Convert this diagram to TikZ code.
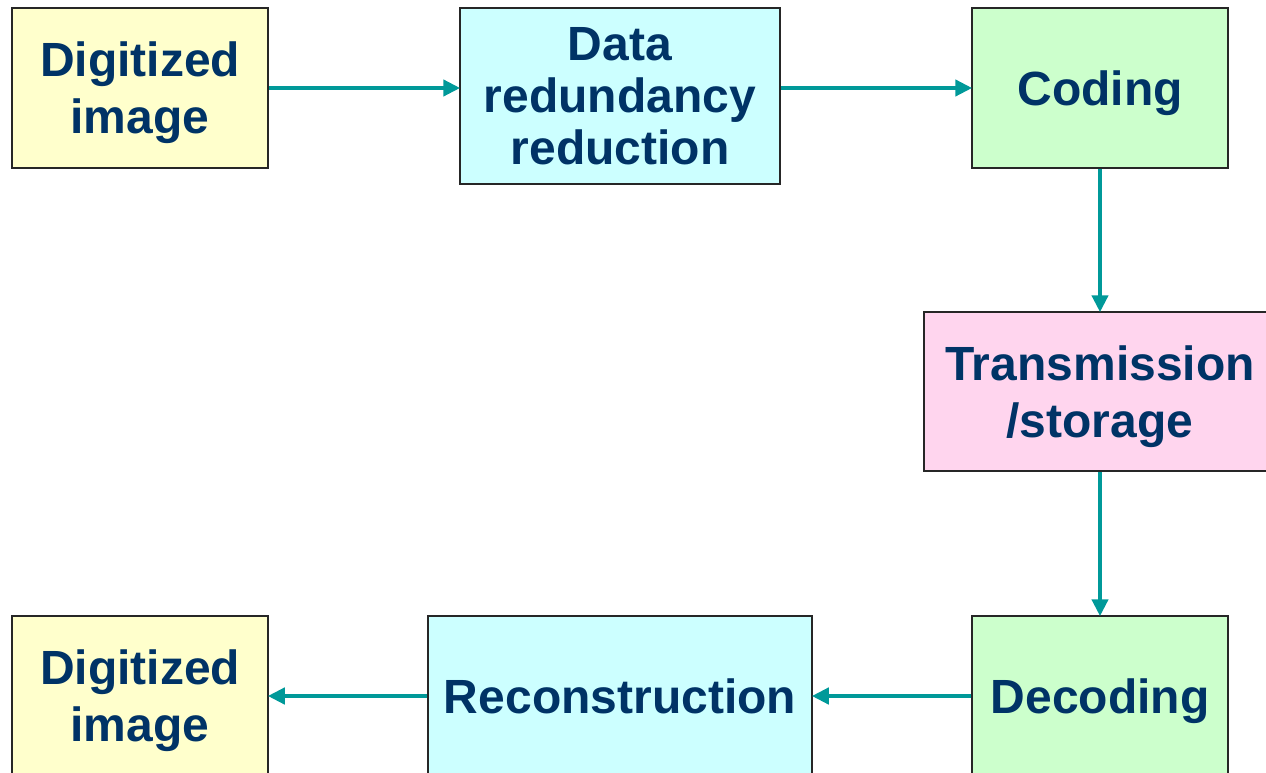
\documentclass[tikz,border=0pt]{standalone}
\usepackage{fontspec}
\setmainfont{Liberation Sans}
\usetikzlibrary{arrows.meta}
\definecolor{txtblue}{HTML}{003366}
\definecolor{flowteal}{HTML}{009999}
\definecolor{boxyellow}{HTML}{FFFFCC}
\definecolor{boxcyan}{HTML}{CCFFFF}
\definecolor{boxgreen}{HTML}{CCFFCC}
\definecolor{boxpink}{HTML}{FFD5EE}
\tikzset{
  block/.style={draw=black!85, line width=1.5pt, inner sep=0pt, align=center,
    text depth=0pt, text=txtblue, font=\bfseries\fontsize{48}{57}\selectfont},
  tight/.style={font=\bfseries\fontsize{48}{52}\selectfont},
  flow/.style={draw=flowteal, line width=4.5pt,
    -{Triangle[length=17pt,width=16pt]}, shorten >=-1pt},
}
\begin{document}
\begin{tikzpicture}[x=1pt,y=-1pt]
\useasboundingbox (0,0) rectangle (1266,773);
\clip (0,0) rectangle (1266,773);
% top row
\node[block, fill=boxyellow, minimum width=256pt, minimum height=160pt] (in) at (140,88) {Digitized\\image};
\node[block, tight, fill=boxcyan, minimum width=320pt, minimum height=176pt] (red) at (620,96) {Data\\redundancy\\reduction};
\node[block, fill=boxgreen, minimum width=256pt, minimum height=160pt] (cod) at (1100,88) {Coding};
% channel
\node[block, fill=boxpink, minimum width=352pt, minimum height=159pt] (chan) at (1100,391.5) {Transmission\\/storage};
% bottom row
\node[block, fill=boxgreen, minimum width=256pt, minimum height=160pt] (dec) at (1100,696) {Decoding};
\node[block, fill=boxcyan, minimum width=384pt, minimum height=160pt] (rec) at (620,696) {Reconstruction};
\node[block, fill=boxyellow, minimum width=256pt, minimum height=160pt] (out) at (140,696) {Digitized\\image};
% connectors
\draw[flow] (in.east) -- (in.east -| red.west);
\draw[flow] (red.east |- in.east) -- (cod.west);
\draw[flow] (cod.south) -- (chan.north);
\draw[flow] (chan.south) -- (dec.north);
\draw[flow] (dec.west) -- (rec.east);
\draw[flow] (rec.west) -- (out.east);
\end{tikzpicture}
\end{document}
